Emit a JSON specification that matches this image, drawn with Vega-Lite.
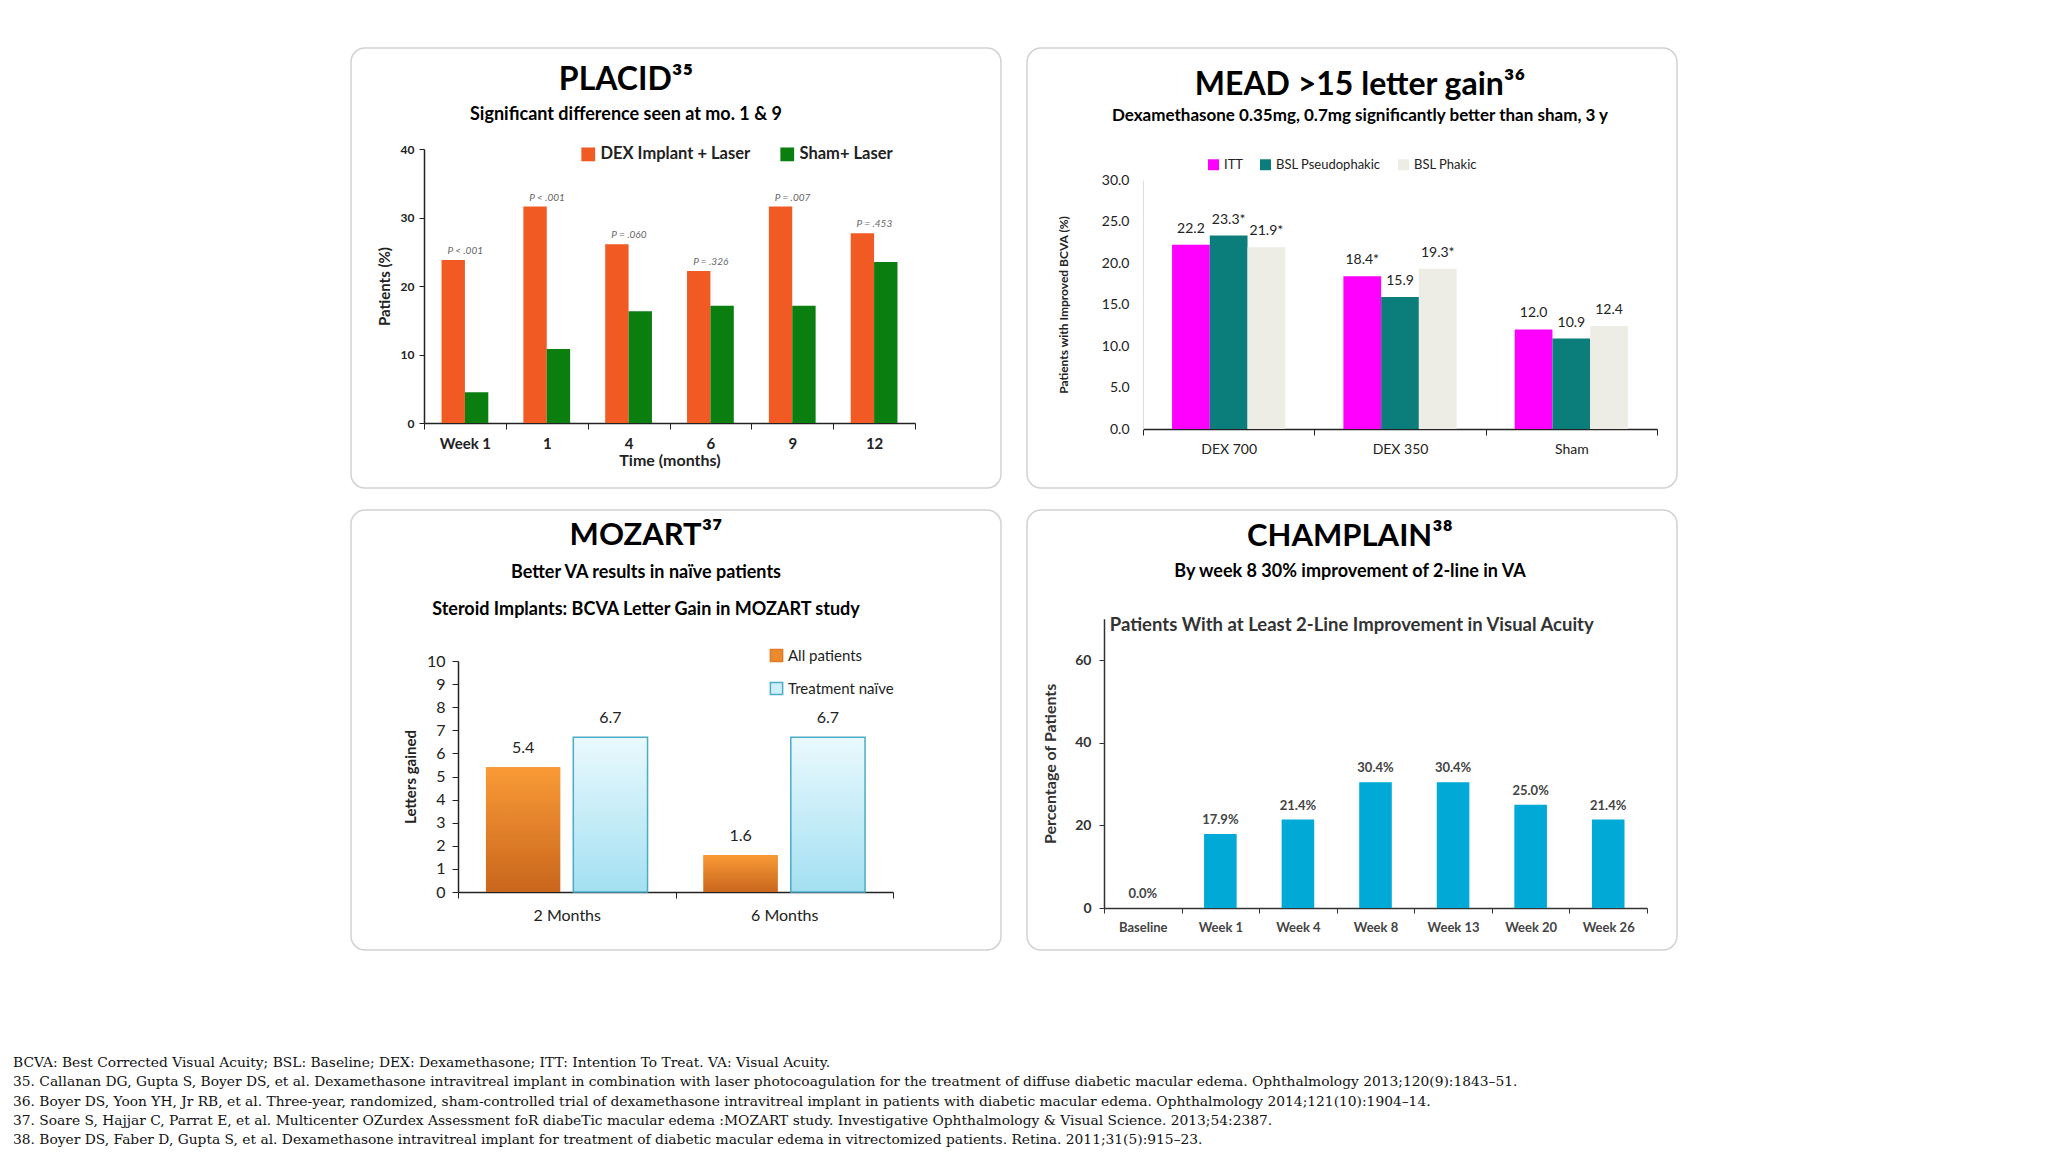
{
  "$schema": "https://vega.github.io/schema/vega-lite/v6.json",
  "background": "white",
  "padding": {"left": 13, "top": 47, "right": 0, "bottom": 0},
  "config": {
    "font": "Lato",
    "axis": {"labelFont": "Lato", "titleFont": "Lato", "grid": false},
    "legend": {"labelFont": "Lato", "titleFont": "Lato"},
    "title": {"font": "Lato", "subtitleFont": "Lato"}
  },
  "spacing": 102,
  "resolve": {"scale": {"color": "independent", "xOffset": "independent"}, "legend": {"color": "independent"}},
  "vconcat": [
    {
      "spacing": 20,
      "resolve": {"scale": {"color": "independent", "xOffset": "independent"}, "legend": {"color": "independent"}},
      "vconcat": [
        {
          "spacing": 24,
          "resolve": {"scale": {"color": "independent", "xOffset": "independent"}, "legend": {"color": "independent"}},
          "hconcat": [
            {"width": 313, "height": 440, "data": {"values": []}, "mark": "point", "view": {"stroke": null}},
            {
              "width": 650, "height": 440,
              "view": {"stroke": "#d2d2d2", "strokeWidth": 1.5, "cornerRadius": 14, "fill": "#ffffff"},
              "title": {"text": "PLACID³⁵", "subtitle": "Significant difference seen at mo. 1 & 9", "anchor": "middle", "frame": "group", "offset": -77, "dx": -50, "fontSize": 32, "fontWeight": "bold", "color": "#000000", "subtitleFontSize": 18, "subtitleFontWeight": "bold", "subtitleColor": "#000000", "subtitlePadding": 9},
              "data": {"values": [
                {"time": "Week 1", "group": "DEX Implant + Laser", "value": 23.8, "p": "P < .001"},
                {"time": "Week 1", "group": "Sham+ Laser", "value": 4.5, "p": ""},
                {"time": "1", "group": "DEX Implant + Laser", "value": 31.6, "p": "P < .001"},
                {"time": "1", "group": "Sham+ Laser", "value": 10.8, "p": ""},
                {"time": "4", "group": "DEX Implant + Laser", "value": 26.1, "p": "P = .060"},
                {"time": "4", "group": "Sham+ Laser", "value": 16.3, "p": ""},
                {"time": "6", "group": "DEX Implant + Laser", "value": 22.2, "p": "P = .326"},
                {"time": "6", "group": "Sham+ Laser", "value": 17.1, "p": ""},
                {"time": "9", "group": "DEX Implant + Laser", "value": 31.6, "p": "P = .007"},
                {"time": "9", "group": "Sham+ Laser", "value": 17.1, "p": ""},
                {"time": "12", "group": "DEX Implant + Laser", "value": 27.7, "p": "P = .453"},
                {"time": "12", "group": "Sham+ Laser", "value": 23.5, "p": ""}
              ]},
              "encoding": {
                "x": {"field": "time", "type": "nominal", "sort": ["Week 1", "1", "4", "6", "9", "12"],
                  "scale": {"range": [73, 564], "paddingInner": 0, "paddingOuter": 0},
                  "axis": {"title": "Time (months)", "titleFontSize": 16, "titleFontWeight": "bold", "titleColor": "#222222", "titlePadding": 1,
                    "labelFontSize": 15, "labelFontWeight": "bold", "labelColor": "#222222", "labelAngle": 0, "labelPadding": 7,
                    "tickBand": "extent", "tickSize": 6, "tickColor": "#222222", "domainColor": "#222222", "domainWidth": 1.5, "offset": -65}},
                "xOffset": {"field": "group", "sort": ["DEX Implant + Laser", "Sham+ Laser"], "scale": {"paddingInner": 0, "paddingOuter": 0.75}},
                "y": {"field": "value", "type": "quantitative", "scale": {"domain": [0, 40], "range": [375, 101]},
                  "axis": {"title": "Patients (%)", "values": [0, 10, 20, 30, 40], "titleFontSize": 15, "titleFontWeight": "bold", "titleColor": "#222222", "titlePadding": 8,
                    "labelFontSize": 12, "labelFontWeight": "bold", "labelColor": "#222222", "labelPadding": 5,
                    "tickSize": 5, "tickColor": "#222222", "domainColor": "#222222", "domainWidth": 1.5, "offset": -73}}
              },
              "layer": [
                {"mark": {"type": "bar"},
                  "encoding": {"color": {"field": "group", "type": "nominal", "sort": ["DEX Implant + Laser", "Sham+ Laser"],
                    "scale": {"range": ["#F15A22", "#0B7E10"]},
                    "legend": {"orient": "none", "legendX": 229, "legendY": 98, "direction": "horizontal", "title": null, "symbolType": "square", "symbolSize": 190, "symbolStrokeWidth": 0,
                      "labelFontSize": 16.5, "labelFontWeight": "bold", "labelColor": "#222222", "columnPadding": 28, "labelOffset": 4}}}},
                {"transform": [{"filter": "datum.p != ''"}],
                  "mark": {"type": "text", "baseline": "bottom", "dy": -4, "dx": 12, "fontSize": 10, "fontStyle": "italic", "color": "#666666"},
                  "encoding": {"text": {"field": "p"}}}
              ]
            },
            {
              "width": 650, "height": 440,
              "view": {"stroke": "#d2d2d2", "strokeWidth": 1.5, "cornerRadius": 14, "fill": "#ffffff"},
              "title": {"text": "MEAD >15 letter gain³⁶", "subtitle": "Dexamethasone 0.35mg, 0.7mg significantly better than sham, 3 y", "anchor": "middle", "frame": "group", "offset": -77, "dx": 8, "fontSize": 32, "fontWeight": "bold", "color": "#000000", "subtitleFontSize": 17, "subtitleFontWeight": "bold", "subtitleColor": "#000000", "subtitlePadding": 6},
              "data": {"values": [
                {"dose": "DEX 700", "series": "ITT", "value": 22.2, "label": "22.2"},
                {"dose": "DEX 700", "series": "BSL Pseudophakic", "value": 23.3, "label": "23.3*"},
                {"dose": "DEX 700", "series": "BSL Phakic", "value": 21.9, "label": "21.9*"},
                {"dose": "DEX 350", "series": "ITT", "value": 18.4, "label": "18.4*"},
                {"dose": "DEX 350", "series": "BSL Pseudophakic", "value": 15.9, "label": "15.9"},
                {"dose": "DEX 350", "series": "BSL Phakic", "value": 19.3, "label": "19.3*"},
                {"dose": "Sham", "series": "ITT", "value": 12.0, "label": "12.0"},
                {"dose": "Sham", "series": "BSL Pseudophakic", "value": 10.9, "label": "10.9"},
                {"dose": "Sham", "series": "BSL Phakic", "value": 12.4, "label": "12.4"}
              ]},
              "encoding": {
                "x": {"field": "dose", "type": "nominal", "sort": ["DEX 700", "DEX 350", "Sham"],
                  "scale": {"range": [116, 630], "paddingInner": 0, "paddingOuter": 0},
                  "axis": {"title": null, "labelFontSize": 14, "labelColor": "#222222", "labelAngle": 0, "labelPadding": 7,
                    "tickBand": "extent", "tickSize": 6, "tickColor": "#222222", "domainColor": "#222222", "domainWidth": 1.5, "offset": -59}},
                "xOffset": {"field": "series", "sort": ["ITT", "BSL Pseudophakic", "BSL Phakic"], "scale": {"paddingInner": 0, "paddingOuter": 0.77}},
                "y": {"field": "value", "type": "quantitative", "scale": {"domain": [0, 30], "range": [381, 132]},
                  "axis": {"title": "Patients with Improved BCVA (%)", "values": [0, 5, 10, 15, 20, 25, 30], "format": ".1f", "titleFontSize": 12, "titleFontWeight": "bold", "titleColor": "#222222", "titlePadding": 31,
                    "labelFontSize": 14, "labelColor": "#222222", "labelPadding": 14, "ticks": false,
                    "domainColor": "#dddddd", "domainWidth": 1, "offset": -116}}
              },
              "layer": [
                {"mark": {"type": "bar"},
                  "encoding": {"color": {"field": "series", "type": "nominal", "sort": ["ITT", "BSL Pseudophakic", "BSL Phakic"],
                    "scale": {"range": ["#FF00FF", "#0B7D7A", "#EDECE5"]},
                    "legend": {"orient": "none", "legendX": 180, "legendY": 110, "direction": "horizontal", "title": null, "symbolType": "square", "symbolSize": 120, "symbolStrokeWidth": 0,
                      "labelFontSize": 13, "labelColor": "#222222", "columnPadding": 16, "labelOffset": 4}}}},
                {"mark": {"type": "text", "baseline": "bottom", "dy": -9, "fontSize": 14, "color": "#222222"},
                  "encoding": {"text": {"field": "label"}}}
              ]
            }
          ]
        },
        {
          "spacing": 24,
          "resolve": {"scale": {"color": "independent", "xOffset": "independent"}, "legend": {"color": "independent"}},
          "hconcat": [
            {"width": 313, "height": 440, "data": {"values": []}, "mark": "point", "view": {"stroke": null}},
            {
              "width": 650, "height": 440,
              "view": {"stroke": "#d2d2d2", "strokeWidth": 1.5, "cornerRadius": 14, "fill": "#ffffff"},
              "title": {"text": "MOZART³⁷", "subtitle": ["Better VA results in naïve patients", "Steroid Implants: BCVA Letter Gain in MOZART study"], "anchor": "middle", "frame": "group", "offset": -110, "dx": -30, "fontSize": 31, "fontWeight": "bold", "color": "#000000", "subtitleFontSize": 18, "subtitleFontWeight": "bold", "subtitleColor": "#000000", "subtitlePadding": 12, "subtitleLineHeight": 37},
              "data": {"values": [
                {"period": "2 Months", "series": "All patients", "value": 5.4},
                {"period": "2 Months", "series": "Treatment naïve", "value": 6.7},
                {"period": "6 Months", "series": "All patients", "value": 1.6},
                {"period": "6 Months", "series": "Treatment naïve", "value": 6.7}
              ]},
              "encoding": {
                "x": {"field": "period", "type": "nominal", "sort": ["2 Months", "6 Months"],
                  "scale": {"range": [107, 542], "paddingInner": 0, "paddingOuter": 0},
                  "axis": {"title": null, "labelFontSize": 16, "labelColor": "#222222", "labelAngle": 0, "labelPadding": 9,
                    "tickBand": "extent", "tickSize": 6, "tickColor": "#222222", "domainColor": "#222222", "domainWidth": 1.5, "offset": -58}},
                "xOffset": {"field": "series", "sort": ["All patients", "Treatment naïve"], "scale": {"paddingInner": 0.15, "paddingOuter": 0.32}},
                "y": {"field": "value", "type": "quantitative", "scale": {"domain": [0, 10], "range": [382, 151]},
                  "axis": {"title": "Letters gained", "values": [0, 1, 2, 3, 4, 5, 6, 7, 8, 9, 10], "titleFontSize": 15, "titleFontWeight": "bold", "titleColor": "#222222", "titlePadding": 8,
                    "labelFontSize": 16, "labelColor": "#222222", "labelPadding": 7,
                    "tickSize": 6, "tickColor": "#222222", "domainColor": "#222222", "domainWidth": 1.5, "offset": -107}}
              },
              "layer": [
                {"mark": {"type": "bar"},
                  "encoding": {
                    "color": {"field": "series", "type": "nominal", "sort": ["All patients", "Treatment naïve"],
                      "scale": {"range": ["#EB8A2E", "#CDEFFA"]},
                      "legend": {"orient": "none", "legendX": 418, "legendY": 138, "direction": "vertical", "title": null, "symbolType": "square", "symbolSize": 150, "symbolStrokeWidth": 1.5,
                        "labelFontSize": 15, "labelColor": "#222222", "rowPadding": 14, "labelOffset": 4,
                        "encode": {"symbols": {"update": {"stroke": {"signal": "datum.value === 'Treatment naïve' ? '#4BACC6' : '#E07C28'"}, "strokeWidth": {"value": 1.5}}}}}}}},
                {"transform": [{"filter": "datum.series == 'All patients'"}],
                  "mark": {"type": "bar", "strokeWidth": 0,
                    "fill": {"gradient": "linear", "x1": 0, "y1": 0, "x2": 0, "y2": 1, "stops": [{"offset": 0, "color": "#F99A36"}, {"offset": 1, "color": "#C9661D"}]}},
                  "encoding": {}},
                {"transform": [{"filter": "datum.series == 'Treatment naïve'"}],
                  "mark": {"type": "bar", "stroke": "#4BACC6", "strokeWidth": 1.5,
                    "fill": {"gradient": "linear", "x1": 0, "y1": 0, "x2": 0, "y2": 1, "stops": [{"offset": 0, "color": "#EAF9FD"}, {"offset": 1, "color": "#A3E0F2"}]}},
                  "encoding": {}},
                {"mark": {"type": "text", "baseline": "bottom", "dy": -11, "fontSize": 16, "color": "#222222"},
                  "encoding": {"text": {"field": "value", "type": "quantitative", "format": ".1f"}}}
              ]
            },
            {
              "width": 650, "height": 440,
              "view": {"stroke": "#d2d2d2", "strokeWidth": 1.5, "cornerRadius": 14, "fill": "#ffffff"},
              "title": {"text": "CHAMPLAIN³⁸", "subtitle": "By week 8 30% improvement of 2-line in VA", "anchor": "middle", "frame": "group", "offset": -72, "dx": -2, "fontSize": 31, "fontWeight": "bold", "color": "#000000", "subtitleFontSize": 18, "subtitleFontWeight": "bold", "subtitleColor": "#000000", "subtitlePadding": 10},
              "data": {"values": [
                {"week": "Baseline", "value": 0.0, "label": "0.0%", "note": "Patients With at Least 2-Line Improvement in Visual Acuity"},
                {"week": "Week 1", "value": 17.9, "label": "17.9%", "note": ""},
                {"week": "Week 4", "value": 21.4, "label": "21.4%", "note": ""},
                {"week": "Week 8", "value": 30.4, "label": "30.4%", "note": ""},
                {"week": "Week 13", "value": 30.4, "label": "30.4%", "note": ""},
                {"week": "Week 20", "value": 25.0, "label": "25.0%", "note": ""},
                {"week": "Week 26", "value": 21.4, "label": "21.4%", "note": ""}
              ]},
              "encoding": {
                "x": {"field": "week", "type": "nominal", "sort": ["Baseline", "Week 1", "Week 4", "Week 8", "Week 13", "Week 20", "Week 26"],
                  "scale": {"range": [77, 620], "paddingInner": 0, "paddingOuter": 0},
                  "axis": {"title": null, "labelFontSize": 13, "labelFontWeight": "bold", "labelColor": "#444444", "labelAngle": 0, "labelPadding": 8,
                    "tickBand": "extent", "tickSize": 5, "tickColor": "#333333", "domainColor": "#333333", "domainWidth": 1.5, "offset": -42}}
              },
              "layer": [
                {"mark": {"type": "bar", "width": {"band": 0.42}, "color": "#00A9D6"},
                  "encoding": {"y": {"field": "value", "type": "quantitative", "scale": {"domain": [0, 70], "range": [398, 108.7]},
                  "axis": {"title": "Percentage of Patients", "values": [0, 20, 40, 60], "titleFontSize": 16, "titleFontWeight": "bold", "titleColor": "#333333", "titlePadding": 16,
                    "labelFontSize": 14, "labelFontWeight": "bold", "labelColor": "#333333", "labelPadding": 8,
                    "tickSize": 5, "tickColor": "#333333", "domainColor": "#333333", "domainWidth": 1.5, "offset": -77}}}},
                {"mark": {"type": "text", "baseline": "bottom", "dy": -7, "fontSize": 13, "fontWeight": "bold", "color": "#444444"},
                  "encoding": {"y": {"field": "value", "type": "quantitative"}, "text": {"field": "label"}}},
                {"transform": [{"filter": "datum.note != ''"}],
                  "mark": {"type": "text", "align": "left", "baseline": "middle", "dx": -33, "fontSize": 18.5, "fontWeight": "bold", "color": "#333333"},
                  "encoding": {"y": {"datum": 68.5, "type": "quantitative"}, "text": {"field": "note"}}}
              ]
            }
          ]
        }
      ]
    },
    {
      "width": 1520, "height": 97,
      "view": {"stroke": null},
      "data": {"values": [
        {"i": 1, "t": "BCVA: Best Corrected Visual Acuity; BSL: Baseline; DEX: Dexamethasone; ITT: Intention To Treat. VA: Visual Acuity."},
        {"i": 2, "t": "35. Callanan DG, Gupta S, Boyer DS, et al. Dexamethasone intravitreal implant in combination with laser photocoagulation for the treatment of diffuse diabetic macular edema. Ophthalmology 2013;120(9):1843–51."},
        {"i": 3, "t": "36. Boyer DS, Yoon YH, Jr RB, et al. Three-year, randomized, sham-controlled trial of dexamethasone intravitreal implant in patients with diabetic macular edema. Ophthalmology 2014;121(10):1904–14."},
        {"i": 4, "t": "37. Soare S, Hajjar C, Parrat E, et al. Multicenter OZurdex Assessment foR diabeTic macular edema :MOZART study.  Investigative Ophthalmology & Visual Science. 2013;54:2387."},
        {"i": 5, "t": "38. Boyer DS, Faber D, Gupta S, et al. Dexamethasone intravitreal implant for treatment of diabetic macular edema in vitrectomized patients. Retina. 2011;31(5):915–23."}
      ]},
      "mark": {"type": "text", "align": "left", "baseline": "middle", "font": "DejaVu Serif", "fontSize": 13.8, "color": "#111111"},
      "encoding": {
        "x": {"datum": 0, "type": "quantitative", "scale": {"domain": [0, 1]}, "axis": null},
        "y": {"field": "i", "type": "ordinal", "axis": null},
        "text": {"field": "t"}
      }
    }
  ]
}
